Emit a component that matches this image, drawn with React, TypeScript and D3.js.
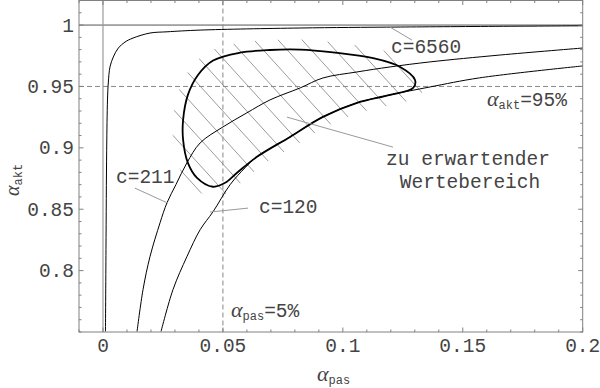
import React from 'react';
import * as d3 from 'd3';

// ---- data ----
const xMajorTicks = [0, 0.05, 0.1, 0.15, 0.2];
const xTickLabels = ['0', '0.05', '0.1', '0.15', '0.2'];
const yMajorTicks = [0.8, 0.85, 0.9, 0.95, 1];
const yTickLabels = ['0.8', '0.85', '0.9', '0.95', '1'];

const curveC6560: [number, number][] = [
  [0.00104, 0.7504], [0.00125, 0.817], [0.00154, 0.898], [0.00188, 0.939],
  [0.00221, 0.9528], [0.00292, 0.9659], [0.0043, 0.974], [0.0064, 0.9813],
  [0.0092, 0.9862], [0.0125, 0.9894], [0.0196, 0.9935], [0.0267, 0.9945],
  [0.0405, 0.9959], [0.0822, 0.9976], [0.1239, 0.9984], [0.2, 0.9994],
];
const curveC211: [number, number][] = [
  [0.0142, 0.7504], [0.0167, 0.7846], [0.0196, 0.8114], [0.0238, 0.839],
  [0.0267, 0.8553], [0.0304, 0.870], [0.035, 0.8878], [0.0405, 0.904],
  [0.05, 0.917], [0.06, 0.9285], [0.0696, 0.939], [0.0822, 0.9488],
  [0.0917, 0.9569], [0.1059, 0.9618], [0.1197, 0.9659], [0.1364, 0.970],
  [0.1656, 0.9756], [0.2, 0.9813],
];
const curveC120: [number, number][] = [
  [0.0242, 0.7504], [0.0292, 0.7846], [0.035, 0.8114], [0.0405, 0.8333],
  [0.0459, 0.848], [0.053, 0.870], [0.0592, 0.8837], [0.0642, 0.8927],
  [0.078, 0.9089], [0.0917, 0.9252], [0.1059, 0.9366], [0.1197, 0.9431],
  [0.1364, 0.9496], [0.157, 0.957], [0.2, 0.9667],
];
const regionLoop: [number, number][] = [
  [0.0459, 0.9711], [0.0571, 0.9775], [0.0696, 0.9797], [0.0822, 0.9800],
  [0.0959, 0.9777], [0.1126, 0.9730], [0.1239, 0.9659], [0.1301, 0.9553],
  [0.1293, 0.9488], [0.1197, 0.9431], [0.1059, 0.9366], [0.0917, 0.9252],
  [0.078, 0.9089], [0.0642, 0.8927], [0.0559, 0.8797], [0.0509, 0.8715],
  [0.0459, 0.8683], [0.0392, 0.8756], [0.0354, 0.8878], [0.0334, 0.9065],
  [0.0334, 0.9228], [0.0354, 0.9431], [0.0396, 0.9593],
];
const refAkt = 0.95;
const refPas = 0.05;

// pointer lines (data coords)
const pointerC6560: [number, number][] = [[0.1197, 0.9983], [0.1288, 0.9878]];
const pointerC211: [number, number][] = [[0.0133, 0.8672], [0.0271, 0.8549]];
const pointerC120: [number, number][] = [[0.0605, 0.8509], [0.0446, 0.8477]];
const pointerRegion: [number, number][] = [[0.0767, 0.925], [0.1209, 0.9006]];

// ---- layout ----
const W = 600, H = 388;
const X0 = 79, X1 = 582.7, Y0 = 332, Y1 = 0.5;
const x = d3.scaleLinear().domain([-0.01, 0.2]).range([X0, X1]);
const y = d3.scaleLinear().domain([0.75, 1.02]).range([Y0, Y1]);

const MONO = '"Liberation Mono", "DejaVu Sans Mono", monospace';
const SERIF = '"Liberation Serif", "DejaVu Serif", serif';
const TXT = '#444';
const AX = '#808080';

const line = d3.line<[number, number]>().x(d => x(d[0])).y(d => y(d[1])).curve(d3.curveCatmullRom.alpha(0.5));
const loopPath = d3.line<[number, number]>().x(d => x(d[0])).y(d => y(d[1])).curve(d3.curveCatmullRomClosed.alpha(0.5));

export default function App() {
  const xMinor = d3.range(-10, 201, 10).map(v => v / 1000).filter(v => !xMajorTicks.some(m => Math.abs(m - v) < 1e-9));
  const yMinor = d3.range(750, 1021, 10).map(v => v / 1000).filter(v => !yMajorTicks.some(m => Math.abs(m - v) < 1e-9));
  const hatchStarts = d3.range(0, 20).map(k => 20 + k * 24);
  const slope = 1.1;

  const ptr = (p: [number, number][]) => (
    <line x1={x(p[0][0])} y1={y(p[0][1])} x2={x(p[1][0])} y2={y(p[1][1])} stroke="#999" strokeWidth={1} />
  );

  const subLabel = (sub: string, rest: string, tx: number, ty: number, big = 19.5, alpha = 22) => (
    <text x={tx} y={ty} fill={TXT} fontFamily={MONO} fontSize={big}>
      <tspan fontFamily={SERIF} fontStyle="italic" fontSize={alpha}>α</tspan>
      <tspan fontSize={12} dy={3}>{sub}</tspan>
      {rest && <tspan dy={-3}>{rest}</tspan>}
    </text>
  );

  return (
    <svg width={W} height={H} style={{ position: 'absolute', left: 0, top: 0, background: '#fff' }}>
      <defs>
        <mask id="hatchMask">
          <rect x={0} y={0} width={W} height={H} fill="black" />
          <path d={loopPath(regionLoop) || ''} fill="white" stroke="white" strokeWidth={20} />
        </mask>
      </defs>

      {/* hatching */}
      <g mask="url(#hatchMask)">
        {hatchStarts.map((s, i) => (
          <line key={i} x1={s} y1={20} x2={s + 200 / slope} y2={220} stroke="#9a9a9a" strokeWidth={1} />
        ))}
      </g>

      {/* reference lines */}
      <line x1={X0} x2={X1} y1={y(1)} y2={y(1)} stroke="#555" strokeWidth={1} />
      <line x1={x(0)} x2={x(0)} y1={Y1} y2={Y0} stroke="#999" strokeWidth={1.2} />
      <line x1={X0} x2={X1} y1={y(refAkt)} y2={y(refAkt)} stroke="#888" strokeWidth={1} strokeDasharray="5,3" />
      <line x1={x(refPas)} x2={x(refPas)} y1={Y1} y2={Y0} stroke="#888" strokeWidth={1} strokeDasharray="5,3" />

      {/* curves */}
      <g>
        <path d={line(curveC6560) || ''} fill="none" stroke="#000" strokeWidth={1} />
        <path d={line(curveC211) || ''} fill="none" stroke="#000" strokeWidth={1} />
        <path d={line(curveC120) || ''} fill="none" stroke="#000" strokeWidth={1} />
        <path d={loopPath(regionLoop) || ''} fill="none" stroke="#000" strokeWidth={1.8} />
      </g>

      {/* pointers */}
      {ptr(pointerC6560)}
      {ptr(pointerC211)}
      {ptr(pointerC120)}
      {ptr(pointerRegion)}

      {/* frame */}
      <rect x={X0} y={Y1} width={X1 - X0} height={Y0 - Y1} fill="none" stroke={AX} strokeWidth={1} />
      {xMajorTicks.map((v, i) => (
        <g key={'xM' + i}>
          <line x1={x(v)} x2={x(v)} y1={Y0} y2={Y0 - 4.5} stroke={AX} />
          <line x1={x(v)} x2={x(v)} y1={Y1} y2={Y1 + 4.5} stroke={AX} />
          <text x={x(v)} y={352} textAnchor="middle" fill={TXT} fontFamily={MONO} fontSize={19.5}>{xTickLabels[i]}</text>
        </g>
      ))}
      {xMinor.map((v, i) => (
        <g key={'xm' + i}>
          <line x1={x(v)} x2={x(v)} y1={Y0} y2={Y0 - 2.5} stroke={AX} />
          <line x1={x(v)} x2={x(v)} y1={Y1} y2={Y1 + 2.5} stroke={AX} />
        </g>
      ))}
      {yMajorTicks.map((v, i) => (
        <g key={'yM' + i}>
          <line x1={X0} x2={X0 + 4.5} y1={y(v)} y2={y(v)} stroke={AX} />
          <line x1={X1} x2={X1 - 4.5} y1={y(v)} y2={y(v)} stroke={AX} />
          <text x={74} y={y(v) + 6.5} textAnchor="end" fill={TXT} fontFamily={MONO} fontSize={19.5}>{yTickLabels[i]}</text>
        </g>
      ))}
      {yMinor.map((v, i) => (
        <g key={'ym' + i}>
          <line x1={X0} x2={X0 + 2.5} y1={y(v)} y2={y(v)} stroke={AX} />
          <line x1={X1} x2={X1 - 2.5} y1={y(v)} y2={y(v)} stroke={AX} />
        </g>
      ))}

      {/* annotations */}
      <text x={391} y={53} fill={TXT} fontFamily={MONO} fontSize={19.5}>c=6560</text>
      <text x={116} y={183} fill={TXT} fontFamily={MONO} fontSize={19.5}>c=211</text>
      <text x={259} y={213} fill={TXT} fontFamily={MONO} fontSize={19.5}>c=120</text>
      <text x={468} y={165} textAnchor="middle" fill={TXT} fontFamily={MONO} fontSize={19.5}>zu erwartender</text>
      <text x={470} y={188} textAnchor="middle" fill={TXT} fontFamily={MONO} fontSize={19.5}>Wertebereich</text>
      {subLabel('akt', '=95%', 487, 106)}
      {subLabel('pas', '=5%', 231, 317)}

      {/* axis titles */}
      {subLabel('pas', '', 317, 381, 12)}
      <g transform="translate(19,196) rotate(-90)">
        {subLabel('akt', '', 0, 0, 12, 20)}
      </g>
    </svg>
  );
}
